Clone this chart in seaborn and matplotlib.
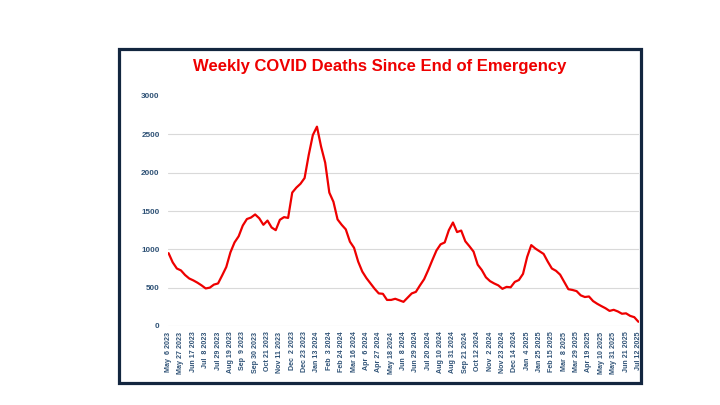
import pandas as pd
import seaborn as sns
from matplotlib import pyplot as plt
from matplotlib.patches import Rectangle

# weekly deaths (first week: May 6 2023)
deaths = [950, 830, 750, 725, 665, 620, 595, 565, 530, 490,
          500, 540, 555, 660, 770, 960, 1090, 1170, 1310, 1395,
          1415, 1455, 1405, 1320, 1375, 1285, 1250, 1385, 1420, 1410,
          1740, 1805, 1855, 1930, 2230, 2490, 2600, 2340, 2130, 1740,
          1620, 1390, 1320, 1260, 1100, 1020, 840, 710, 625, 555,
          485, 425, 420, 340, 340, 355, 335, 315, 370, 425,
          445, 530, 610, 730, 860, 985, 1065, 1090, 1250, 1350,
          1225, 1245, 1105, 1040, 970, 800, 730, 635, 585, 555,
          530, 485, 510, 505, 575, 600, 680, 900, 1055, 1010,
          975, 940, 840, 750, 720, 670, 575, 480, 470, 455,
          400, 378, 385, 325, 290, 260, 232, 197, 211, 190,
          160, 165, 132, 115, 55]
weeks = pd.date_range("2023-05-06", periods=len(deaths), freq="7D")

tick_labels = ["May  6 2023", "May 27 2023", "Jun 17 2023", "Jul  8 2023", "Jul 29 2023",
               "Aug 19 2023", "Sep  9 2023", "Sep 30 2023", "Oct 21 2023", "Nov 11 2023",
               "Dec  2 2023", "Dec 23 2023", "Jan 13 2024", "Feb  3 2024", "Feb 24 2024",
               "Mar 16 2024", "Apr  6 2024", "Apr 27 2024", "May 18 2024", "Jun  8 2024",
               "Jun 29 2024", "Jul 20 2024", "Aug 10 2024", "Aug 31 2024", "Sep 21 2024",
               "Oct 12 2024", "Nov  2 2024", "Nov 23 2024", "Dec 14 2024", "Jan  4 2025",
               "Jan 25 2025", "Feb 15 2025", "Mar  8 2025", "Mar 29 2025", "Apr 19 2025",
               "May 10 2025", "May 31 2025", "Jun 21 2025", "Jul 12 2025"]
y_ticks = [0, 500, 1000, 1500, 2000, 2500, 3000]

df = pd.DataFrame({"week": weeks, "deaths": deaths})

sns.set_theme(style="white")
plt.rcParams['font.family'] = ['Liberation Sans', 'DejaVu Sans']

label_blue = "#2f5276"
fig = plt.figure(figsize=(7.2, 4.05), dpi=100)
ax = fig.add_axes([168/720, 79/405, (639-168)/720, 230/405])

sns.lineplot(data=df, x="week", y="deaths", color="#ee0000", linewidth=1.6, ax=ax)

ax.set_ylim(0, 3000)
ax.set_yticks(y_ticks)
ax.set_yticklabels([str(t) for t in y_ticks], fontsize=5.9, fontweight="bold", color=label_blue)
ax.set_xlim(weeks[0] - pd.Timedelta(days=1), weeks[-1] + pd.Timedelta(days=1))
ax.set_xticks(weeks[::3])
ax.set_xticklabels(tick_labels, rotation=90, fontsize=5.1, fontweight="bold", color=label_blue)
ax.tick_params(axis="y", length=0, pad=6)
ax.tick_params(axis="x", length=0, pad=4)
ax.set_xlabel("")
ax.set_ylabel("")

ax.grid(axis="y", color="#d9d9d9", linewidth=0.8)
ax.set_axisbelow(True)
ax.yaxis.get_gridlines()[-1].set_visible(False)
for s in ax.spines.values():
    s.set_visible(False)

fig.text(380/720, 1 - 66/405, "Weekly COVID Deaths Since End of Emergency",
         ha="center", va="center", fontsize=12, fontweight="bold", color="#ee0000")

fig.patches.append(Rectangle((119/720, 1 - 383/405), (641-119)/720, (383-49)/405,
                             transform=fig.transFigure, fill=False,
                             edgecolor="#13263f", linewidth=2.3))

fig.savefig("out.png", dpi=100)
